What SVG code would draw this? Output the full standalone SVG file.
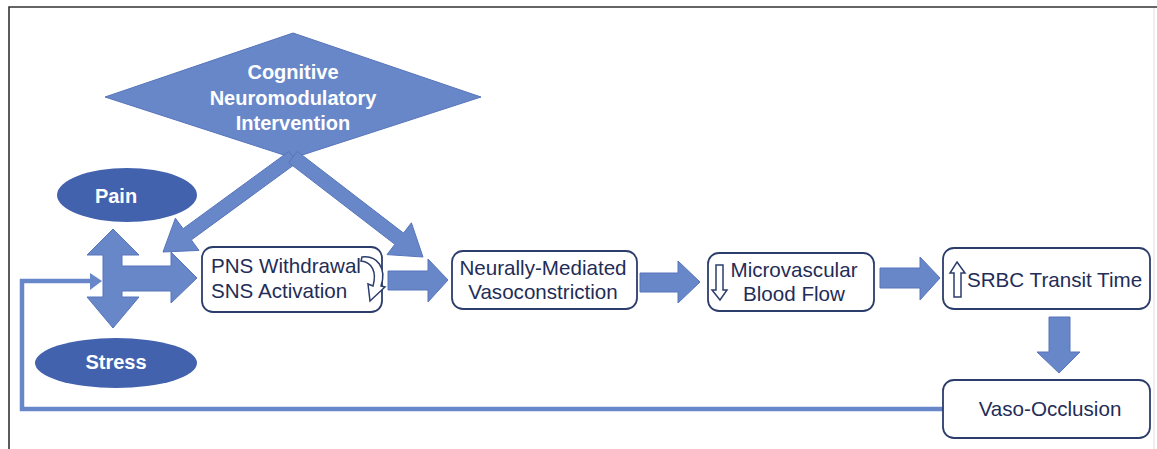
<svg xmlns="http://www.w3.org/2000/svg" width="1157" height="449" viewBox="0 0 1157 449">
<style>
.arr{fill:#6787c9;stroke:#5875bb;stroke-width:1}
.box{fill:#fff;stroke:#2c3d6c;stroke-width:1.8}
.t{font-family:"Liberation Sans",Arial,sans-serif;font-size:20.6px;fill:#1f2d57}
.w{font-family:"Liberation Sans",Arial,sans-serif;font-size:20px;font-weight:bold;fill:#fff}
.ell{fill:#4262ad}
.hol{fill:#fff;stroke:#2c3d6c;stroke-width:1.5}
</style>
<rect width="1157" height="449" fill="#fff"/>
<g id="frame" fill="none">
<path d="M9 449 V7 H1157" stroke="#333" stroke-width="1.6"/>
<path d="M1154 8 V449" stroke="#ddd" stroke-width="1"/>
</g>
<g id="intervention">
<polygon points="293,33 481,97 293,158 105,97" fill="#6787c9" stroke="#5875bb" stroke-width="1"/>
<text class="w" x="293" y="79" text-anchor="middle">Cognitive</text>
<text class="w" x="293" y="105" text-anchor="middle">Neuromodulatory</text>
<text class="w" x="293" y="130" text-anchor="middle">Intervention</text>
</g>
<g id="pain">
<ellipse class="ell" cx="127" cy="195" rx="70" ry="27"/>
<text class="w" x="116" y="203" text-anchor="middle">Pain</text>
</g>
<g id="stress">
<ellipse class="ell" cx="116" cy="363" rx="81" ry="25"/>
<text class="w" x="116" y="369" text-anchor="middle">Stress</text>
</g>
<g id="connectors">
<polygon class="arr" points="288.9,151.4 297.1,162.6 191.3,239.9 199,250.4 163,252 175.4,218.2 183.1,228.7"/>
<polygon class="arr" points="297.3,151.4 403.5,233.1 411.4,222.8 423,257 387,254.6 394.9,244.3 288.7,162.6"/>
<polygon class="arr" points="113,229 139,255 122,255 122,266 171,266 171,252 197,278 171,303 171,291 122,291 122,297 139,297 113,328 87,297 103,297 103,255 87,255"/>
<polygon class="arr" points="388,271 428,271 428,259 448,280 428,302 428,290 388,290"/>
<polygon class="arr" points="640,273 678,273 678,261 700,282 678,303 678,292 640,292"/>
<polygon class="arr" points="880,268 920,268 920,257 940,278 920,300 920,288 880,288"/>
<polygon class="arr" points="1049,317 1070,317 1070,352 1080,352 1059,373 1037,352 1049,352"/>
<path d="M943 409 H22 V281 H92" fill="none" stroke="#6787c9" stroke-width="4.5"/>
<polygon points="90,273 102,281 90,290" fill="#6787c9"/>
</g>
<g id="pns">
<rect class="box" x="202" y="247" width="180" height="65" rx="11"/>
<text class="t" x="211" y="273">PNS Withdrawal</text>
<text class="t" x="211" y="298">SNS Activation</text>
<path class="hol" d="M362 257 C377 255 387 268 381 286 L385 287 L370 301 L368 284 L373 286 C377 272 372 262 361 261 Z"/>
</g>
<g id="neurally">
<rect class="box" x="452" y="251" width="185" height="58" rx="11"/>
<text class="t" x="543" y="275" text-anchor="middle">Neurally-Mediated</text>
<text class="t" x="543" y="299" text-anchor="middle">Vasoconstriction</text>
</g>
<g id="micro">
<rect class="box" x="708" y="253" width="166" height="58" rx="11"/>
<polygon class="hol" points="716,265 723,265 723,290 727,290 720,300 712,290 716,290"/>
<text class="t" x="794" y="277" text-anchor="middle">Microvascular</text>
<text class="t" x="794" y="301" text-anchor="middle">Blood Flow</text>
</g>
<g id="srbc">
<rect class="box" x="943" y="248" width="207" height="61" rx="11"/>
<polygon class="hol" points="957,262 965,273 961,273 961,297 954,297 954,273 950,273"/>
<text class="t" x="967" y="287">SRBC Transit Time</text>
</g>
<g id="vaso">
<rect class="box" x="943" y="380" width="207" height="58" rx="11"/>
<text class="t" x="1050" y="416" text-anchor="middle">Vaso-Occlusion</text>
</g>
</svg>
